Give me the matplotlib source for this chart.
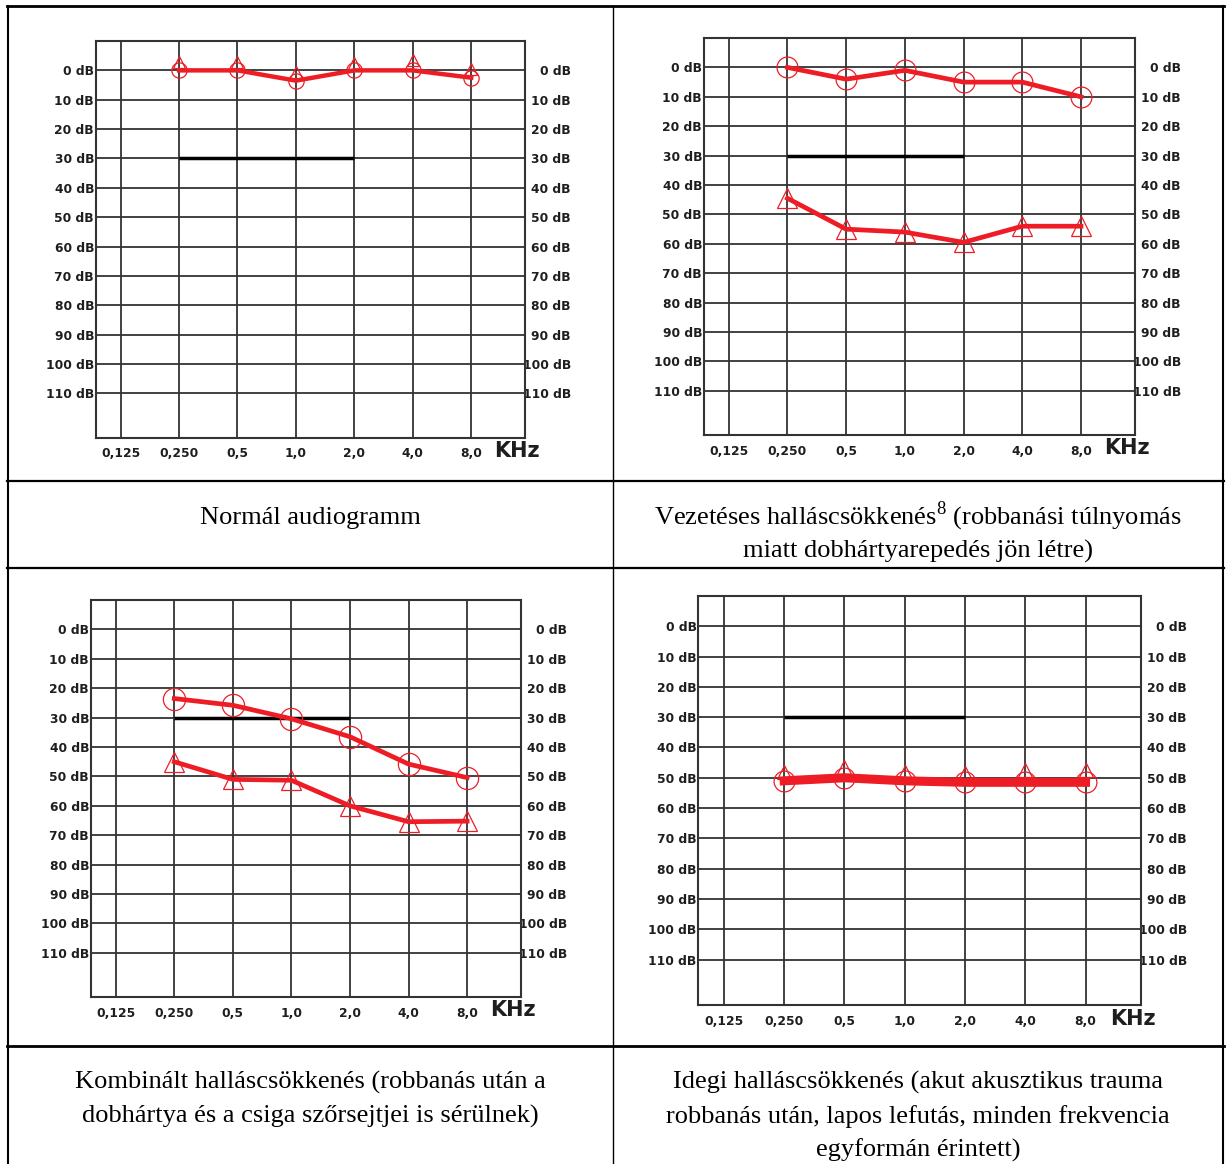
import matplotlib
matplotlib.use("Agg")
import matplotlib.pyplot as plt
from matplotlib.lines import Line2D

W, H = 1226, 1164

plt.rcParams['mathtext.fontset'] = 'custom'
plt.rcParams['mathtext.rm'] = 'Liberation Serif'

# ---- data ----
freq_labels = ['0,125', '0,250', '0,5', '1,0', '2,0', '4,0', '8,0']
freq_pos = [1, 2, 3, 4, 5, 6]          # 0,250 ... 8,0
db_ticks = list(range(0, 120, 10))
db_labels = ['%d dB' % d for d in db_ticks]
threshold_db = 30
threshold_span = [1, 4]                 # 0,250 -> 2,0

normal_air = [0, 0, 3.5, 0, 0, 2.5]
normal_bone = [-3, -3, 0.5, -2.5, -3.5, -0.5]

conductive_air = [0, 4, 1, 5, 5, 10]
conductive_bone = [44.5, 55, 56, 59.5, 54, 54]

combined_air = [23.5, 25.8, 30.4, 36.5, 45.8, 50.4]
combined_bone = [45, 51, 51.3, 60, 65.4, 65.2]

neural_air = [51, 50, 51, 51.5, 51.5, 51.5]
neural_bone = [48, 46.5, 48, 48.5, 47.5, 47.5]

captions = [
    'Normál audiogramm',
    'Vezetéses halláscsökkenés$^{8}$ (robbanási túlnyomás\nmiatt dobhártyarepedés jön létre)',
    'Kombinált halláscsökkenés (robbanás után a\ndobhártya és a csiga szőrsejtjei is sérülnek)',
    'Idegi halláscsökkenés (akut akusztikus trauma\nrobbanás után, lapos lefutás, minden frekvencia\negyformán érintett)',
]

RED = '#ee1c25'
GRID = '#333333'
LABEL = '#1e1e1e'

fig = plt.figure(figsize=(W / 100, H / 100), dpi=100)


def px_axes(x0, y0, x1, y1):
    return fig.add_axes([x0 / W, 1 - y1 / H, (x1 - x0) / W, (y1 - y0) / H])


def audiogram(ax, air, bone, lw=3.0, ms_air=14, ms_bone=12, bone_line=True):
    ax.set_xlim(-0.43, 6.92)
    ax.set_ylim(125, -10)
    ax.set_xticks(range(7))
    ax.set_xticklabels(freq_labels)
    ax.set_yticks(db_ticks)
    ax.set_yticklabels(db_labels)
    ax.grid(True, color=GRID, lw=1.3)
    ax.set_axisbelow(True)
    for s in ax.spines.values():
        s.set_color(GRID)
        s.set_linewidth(1.5)
    ax.tick_params(length=0)
    ax.tick_params(axis='y', pad=1)
    ax.tick_params(axis='x', pad=7)
    for lab in ax.get_yticklabels() + ax.get_xticklabels():
        lab.set_fontweight('bold')
        lab.set_fontsize(8.8)
        lab.set_color(LABEL)

    sec = ax.secondary_yaxis('right')
    sec.set_yticks(db_ticks)
    sec.set_yticklabels(db_labels)
    sec.spines['right'].set_visible(False)
    sec.tick_params(length=0, pad=33)
    for lab in sec.get_yticklabels():
        lab.set_ha('right')
        lab.set_fontweight('bold')
        lab.set_fontsize(8.8)
        lab.set_color(LABEL)

    ax.text(6.40, 129.5, 'KHz', fontsize=15, fontweight='bold', color=LABEL,
            ha='left', va='center', clip_on=False)

    ax.plot(threshold_span, [threshold_db, threshold_db], color='black', lw=2.5,
            solid_capstyle='butt', zorder=3)

    ax.plot(freq_pos, air, color=RED, lw=lw, zorder=4)
    ax.plot(freq_pos, air, ls='none', marker='o', ms=ms_air, mfc='none',
            mec=RED, mew=0.9, zorder=5)
    if bone_line:
        ax.plot(freq_pos, bone, color=RED, lw=lw, zorder=4)
    ax.plot(freq_pos, bone, ls='none', marker='^', ms=ms_bone, mfc='none',
            mec=RED, mew=0.9, zorder=5)


ax1 = px_axes(95.5, 41, 525, 437.5)
audiogram(ax1, normal_air, normal_bone, lw=3.2, ms_air=11, ms_bone=9, bone_line=False)

ax2 = px_axes(703.5, 38, 1135, 435)
audiogram(ax2, conductive_air, conductive_bone, lw=3.4, ms_air=15, ms_bone=14)

ax3 = px_axes(90.5, 600, 521, 997)
audiogram(ax3, combined_air, combined_bone, lw=3.4, ms_air=16, ms_bone=14)

ax4 = px_axes(698, 596, 1141, 1005)
audiogram(ax4, neural_air, neural_bone, lw=6.5, ms_air=15, ms_bone=10, bone_line=False)

# ---- table lines ----
def hline(y, x0, x1, lw):
    fig.add_artist(Line2D([x0 / W, x1 / W], [1 - y / H, 1 - y / H], color='black', lw=lw))


def vline(x, y0, y1, lw):
    fig.add_artist(Line2D([x / W, x / W], [1 - y0 / H, 1 - y1 / H], color='black', lw=lw))


hline(6, 7, 1224, 2.0)
hline(481, 7, 1224, 1.6)
hline(568, 7, 1224, 1.6)
hline(1046, 7, 1224, 2.0)
vline(8, 6, 1164, 1.5)
vline(613, 6, 1164, 1.0)
vline(1223, 6, 1164, 1.5)

# ---- captions ----
# (centre x, top y, line spacing)
cap_pos = [(310, 507, 1.6), (918, 500, 1.38), (310, 1071, 1.6), (918, 1071, 1.6)]
for (cx, ty, ls), txt in zip(cap_pos, captions):
    fig.text(cx / W, 1 - ty / H, txt, ha='center', va='top',
             fontsize=19, family='Liberation Serif', linespacing=ls)

fig.savefig('out.png', dpi=100)
